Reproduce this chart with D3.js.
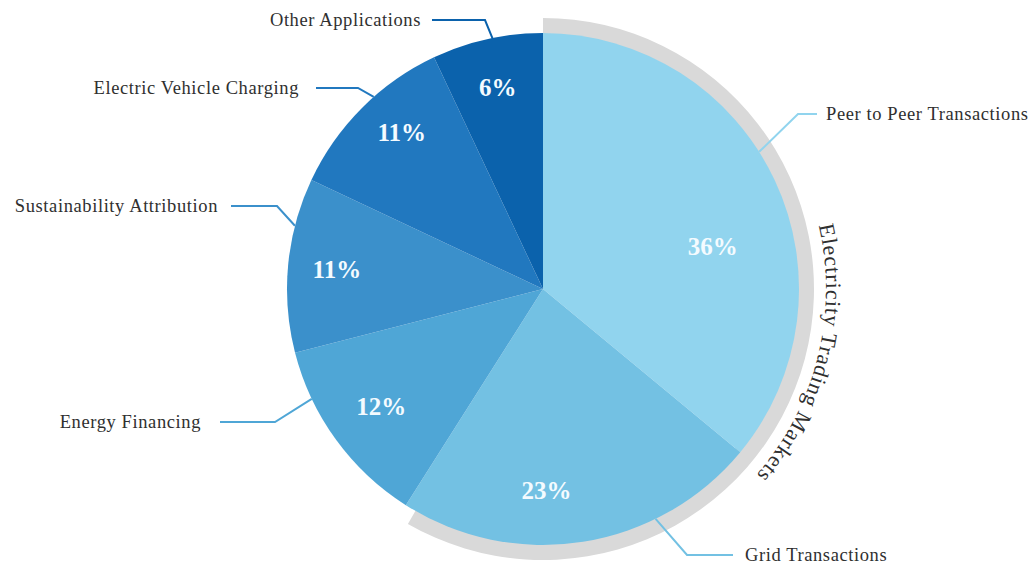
<!DOCTYPE html>
<html>
<head>
<meta charset="utf-8">
<script src="https://cdn.jsdelivr.net/npm/d3@7"></script>
<style>
  body { margin: 0; background: #fff; }
  svg { display: block; }
  .label { font-family: "Liberation Serif", "DejaVu Serif", serif; font-size: 18.5px; letter-spacing: 0.6px; fill: #2f2f2f; }
  .pct { font-family: "Liberation Serif", "DejaVu Serif", serif; font-size: 25px; font-weight: bold; fill: #f4fbff; }
  .group { font-family: "Liberation Serif", "DejaVu Serif", serif; font-size: 22px; letter-spacing: 0.9px; fill: #2f2f2f; }
</style>
</head>
<body>
<svg width="1032" height="566"></svg>
<script>
// Data
var categories = ["Peer to Peer Transactions", "Grid Transactions", "Energy Financing",
                  "Sustainability Attribution", "Electric Vehicle Charging", "Other Applications"];
var shares = [36, 23, 12, 11, 11, 6];
var sliceColors = ["#91d4ee", "#73c1e3", "#4fa6d6", "#3b90cb", "#2178bf", "#0b62ac"];
var groupLabel = "Electricity Trading Markets";
var groupMembers = ["Peer to Peer Transactions", "Grid Transactions"];

// Layout (label placement, not data)
var leaderLayout = {
  "Other Applications":         { edge: 348.6, elbow: [485, 20],  end: [432, 20],  text: [421, 20],  side: "left" },
  "Electric Vehicle Charging":  { edge: 318.6, elbow: [358, 88],  end: [316, 88],  text: [299, 88],  side: "left" },
  "Sustainability Attribution": { edge: 284.3, elbow: [277, 206], end: [231, 206], text: [218, 206], side: "left" },
  "Energy Financing":           { edge: 244.6, elbow: [275, 422], end: [220, 422], text: [201, 422], side: "left" },
  "Peer to Peer Transactions":  { edge: 57.6,  elbow: [798, 114], end: [817, 114], text: [826, 114], side: "right" },
  "Grid Transactions":          { edge: 153.9, elbow: [687, 555], end: [733, 555], text: [745, 555], side: "right" }
};
var pctOverride = {
  "Peer to Peer Transactions": { angle: 76, r: 175 },
  "Grid Transactions": { angle: 179, r: 201 },
  "Energy Financing": { angle: 234, r: 200 },
  "Electric Vehicle Charging": { angle: 318, r: 211 }
};

document.addEventListener('DOMContentLoaded', function() {
    var svg = d3.select("svg");
    var cx = 543, cy = 289, radius = 256;
    var rad = Math.PI / 180;

    var g = svg.append("g").attr("transform", "translate(" + cx + "," + cy + ")");

    var color = d3.scaleOrdinal().domain(categories).range(sliceColors);

    // Shares are percentages of 100; the rounded last slice takes the remainder
    var total = d3.sum(shares);
    var pie = d3.pie().sort(null).value(function(d) { return d.value; })
      .startAngle(0).endAngle(2 * Math.PI * total / 100);
    var arcs = pie(categories.map(function(c, i) { return { name: c, value: shares[i] }; }));
    arcs[arcs.length - 1].endAngle = 2 * Math.PI;

    // Gray bracket arc behind the grouped slices
    var members = arcs.filter(function(a) { return groupMembers.indexOf(a.data.name) >= 0; });
    var gStart = d3.min(members, function(a) { return a.startAngle; });
    var gEnd = d3.max(members, function(a) { return a.endAngle; });
    g.append("path")
      .attr("d", d3.arc().innerRadius(radius - 6).outerRadius(radius + 15)({ startAngle: gStart, endAngle: gEnd - 2.5 * rad }))
      .attr("fill", "#d9d9d9");

    // Slices
    var arc = d3.arc().innerRadius(0).outerRadius(radius);
    g.selectAll("path.slice")
      .data(arcs)
      .enter().append("path")
        .attr("class", "slice")
        .attr("d", arc)
        .attr("fill", function(d) { return color(d.data.name); });

    // Percent labels
    var labelArc = d3.arc().innerRadius(207).outerRadius(207);
    g.selectAll("text.pct")
      .data(arcs)
      .enter().append("text")
        .attr("class", "pct")
        .attr("text-anchor", "middle")
        .attr("dy", "0.35em")
        .attr("transform", function(d) {
            var o = pctOverride[d.data.name];
            if (o) return "translate(" + (o.r * Math.sin(o.angle * rad)) + "," + (-o.r * Math.cos(o.angle * rad)) + ")";
            return "translate(" + labelArc.centroid(d) + ")";
        })
        .text(function(d) { return d.data.value + "%"; });

    // Leader lines and category labels
    var line = d3.line();
    arcs.forEach(function(d) {
        var L = leaderLayout[d.data.name];
        var a = L.edge * rad;
        var p0 = [cx + radius * Math.sin(a), cy - radius * Math.cos(a)];
        svg.append("path")
          .attr("d", line([p0, L.elbow, L.end]))
          .attr("fill", "none")
          .attr("stroke", color(d.data.name))
          .attr("stroke-width", 2);
        svg.append("text")
          .attr("class", "label")
          .attr("x", L.text[0])
          .attr("y", L.text[1])
          .attr("dy", "0.32em")
          .attr("text-anchor", L.side === "left" ? "end" : "start")
          .text(d.data.name);
    });

    // Curved group label
    var r2 = 283, a0 = 77 * rad, a1 = 140 * rad;
    svg.append("path")
      .attr("id", "groupArc")
      .attr("fill", "none")
      .attr("d", "M" + (cx + r2 * Math.sin(a0)) + "," + (cy - r2 * Math.cos(a0)) +
                 " A" + r2 + "," + r2 + " 0 0 1 " + (cx + r2 * Math.sin(a1)) + "," + (cy - r2 * Math.cos(a1)));
    svg.append("text")
      .attr("class", "group")
      .append("textPath")
        .attr("href", "#groupArc")
        .text(groupLabel);
});
</script>
</body>
</html>
